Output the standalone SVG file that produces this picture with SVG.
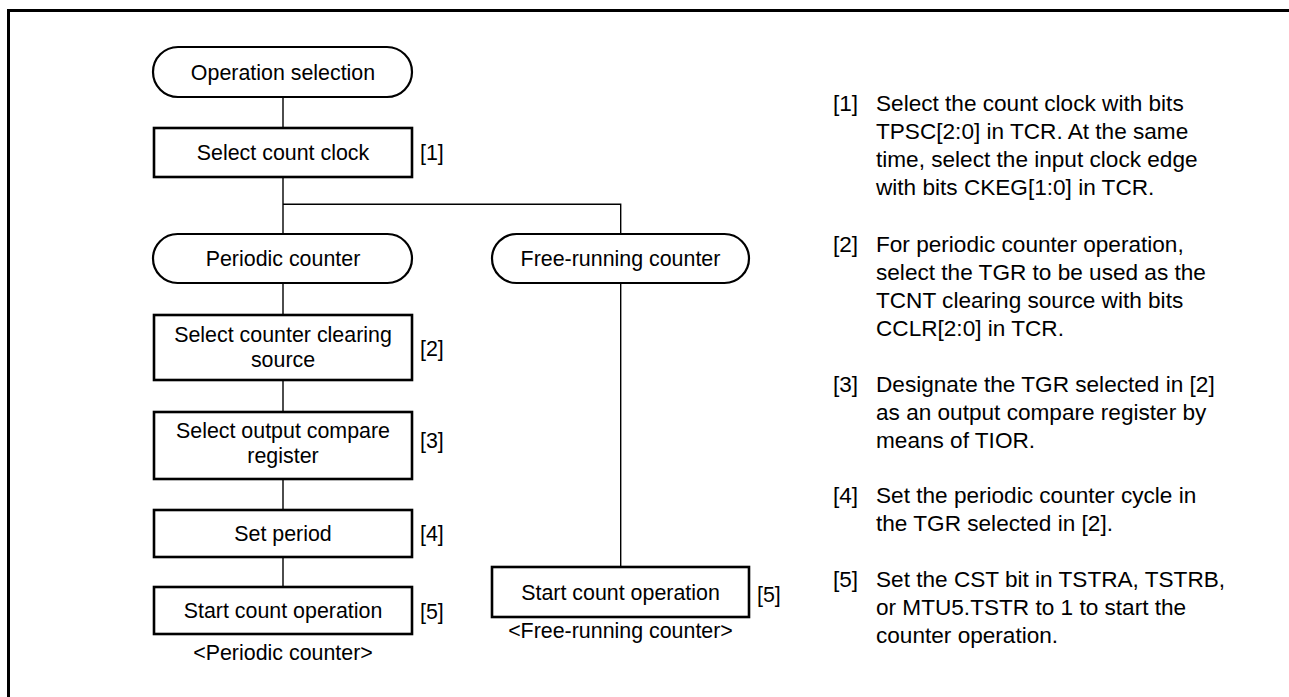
<svg xmlns="http://www.w3.org/2000/svg" width="1289" height="697" viewBox="0 0 1289 697">
<style>
text{font-family:"Liberation Sans",Arial,sans-serif;fill:#000}
.t{font-size:21.4px;text-anchor:middle}
.n{font-size:21.4px}
.r{font-size:22.6px}
.box{fill:#fff;stroke:#000;stroke-width:2.6}
.term{fill:#fff;stroke:#000;stroke-width:2.2}
.ln{fill:none;stroke:#000;stroke-width:1.4}
</style>
<rect width="1289" height="697" fill="#fff"/>
<path d="M8.5 697 V10.5 H1289" fill="none" stroke="#000" stroke-width="3"/>
<g id="connectors">
<line class="ln" x1="283" y1="97" x2="283" y2="128"/>
<line class="ln" x1="283" y1="177" x2="283" y2="234"/>
<polyline class="ln" points="283,204.3 620.7,204.3 620.7,234"/>
<line class="ln" x1="283" y1="283" x2="283" y2="315"/>
<line class="ln" x1="283" y1="380" x2="283" y2="412"/>
<line class="ln" x1="283" y1="479" x2="283" y2="510"/>
<line class="ln" x1="283" y1="557" x2="283" y2="587"/>
<line class="ln" x1="620.7" y1="283" x2="620.7" y2="567"/>
</g>
<g id="op-select">
<rect class="term" x="153" y="47" width="259" height="50" rx="25"/>
<text class="t" x="283" y="79.5">Operation selection</text>
</g>
<g id="count-clock">
<rect class="box" x="154" y="128" width="258" height="49"/>
<text class="t" x="283" y="160">Select count clock</text>
<text class="n" x="420" y="160">[1]</text>
</g>
<g id="periodic">
<rect class="term" x="153" y="234" width="259" height="49" rx="24.5"/>
<text class="t" x="283" y="266">Periodic counter</text>
</g>
<g id="free">
<rect class="term" x="492" y="234" width="257" height="49" rx="24.5"/>
<text class="t" x="620.5" y="266">Free-running counter</text>
</g>
<g id="clear-src">
<rect class="box" x="154" y="315" width="258" height="65"/>
<text class="t" x="283" y="342">Select counter clearing</text>
<text class="t" x="283" y="367">source</text>
<text class="n" x="420" y="355.5">[2]</text>
</g>
<g id="out-cmp">
<rect class="box" x="154" y="412" width="258" height="67"/>
<text class="t" x="283" y="438">Select output compare</text>
<text class="t" x="283" y="463">register</text>
<text class="n" x="420" y="447.5">[3]</text>
</g>
<g id="set-period">
<rect class="box" x="154" y="510" width="258" height="47"/>
<text class="t" x="283" y="541">Set period</text>
<text class="n" x="420" y="540.5">[4]</text>
</g>
<g id="start-periodic">
<rect class="box" x="154" y="587" width="258" height="47"/>
<text class="t" x="283" y="618">Start count operation</text>
<text class="n" x="420" y="618.5">[5]</text>
<text class="t" x="283" y="660">&lt;Periodic counter&gt;</text>
</g>
<g id="start-free">
<rect class="box" x="492" y="567" width="257" height="50"/>
<text class="t" x="620.5" y="599.5">Start count operation</text>
<text class="n" x="757" y="601.5">[5]</text>
<text class="t" x="620.5" y="637.5">&lt;Free-running counter&gt;</text>
</g>
<g id="notes">
<text class="r" x="833" y="111">[1]</text>
<text class="r" x="876" y="111">Select the count clock with bits</text>
<text class="r" x="876" y="139">TPSC[2:0] in TCR. At the same</text>
<text class="r" x="876" y="167">time, select the input clock edge</text>
<text class="r" x="876" y="195">with bits CKEG[1:0] in TCR.</text>
<text class="r" x="833" y="252">[2]</text>
<text class="r" x="876" y="252">For periodic counter operation,</text>
<text class="r" x="876" y="280">select the TGR to be used as the</text>
<text class="r" x="876" y="308">TCNT clearing source with bits</text>
<text class="r" x="876" y="336">CCLR[2:0] in TCR.</text>
<text class="r" x="833" y="392">[3]</text>
<text class="r" x="876" y="392">Designate the TGR selected in [2]</text>
<text class="r" x="876" y="420">as an output compare register by</text>
<text class="r" x="876" y="448">means of TIOR.</text>
<text class="r" x="833" y="503">[4]</text>
<text class="r" x="876" y="503">Set the periodic counter cycle in</text>
<text class="r" x="876" y="531">the TGR selected in [2].</text>
<text class="r" x="833" y="587">[5]</text>
<text class="r" x="876" y="587">Set the CST bit in TSTRA, TSTRB,</text>
<text class="r" x="876" y="615">or MTU5.TSTR to 1 to start the</text>
<text class="r" x="876" y="643">counter operation.</text>
</g>
</svg>
